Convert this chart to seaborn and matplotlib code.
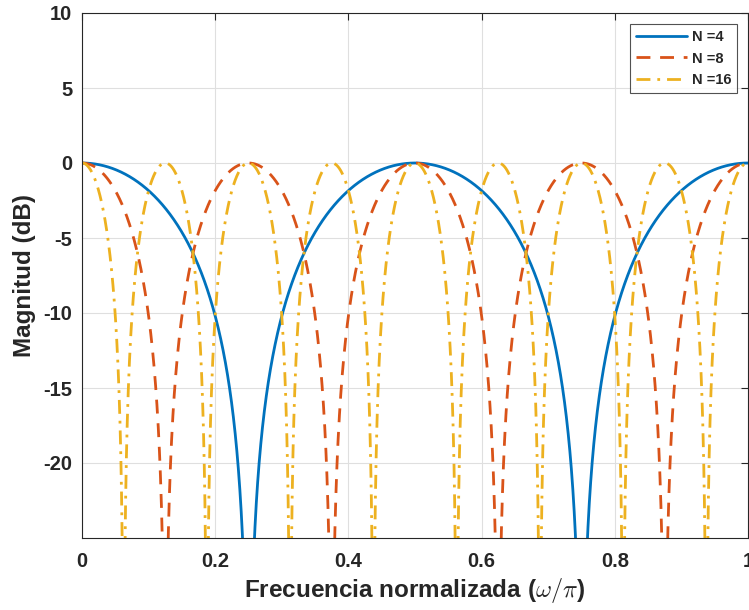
import numpy as np
import pandas as pd
import matplotlib
matplotlib.use("Agg")
import matplotlib.pyplot as plt
import seaborn as sns

# Data: comb-filter orders and their labels
n_values = [4, 8, 16]
labels = ["N =4", "N =8", "N =16"]
colors = ["#0072BD", "#D95319", "#EDB120"]
x_ticks = [0, 0.2, 0.4, 0.6, 0.8, 1]
x_tick_labels = ["0", "0.2", "0.4", "0.6", "0.8", "1"]
y_ticks = [-20, -15, -10, -5, 0, 5, 10]
freq = np.linspace(0, 1, 4001)  # normalized frequency (omega/pi)

frames = []
for n, lab in zip(n_values, labels):
    mag = np.abs(np.cos(n * np.pi * freq / 2))
    with np.errstate(divide="ignore"):
        db = 20 * np.log10(np.maximum(mag, 1e-12))
    frames.append(pd.DataFrame({"f": freq, "dB": db, "N": lab}))
df = pd.concat(frames, ignore_index=True)

sns.set_style("white")
plt.rcParams["font.family"] = ["Liberation Sans", "DejaVu Sans"]
plt.rcParams["font.weight"] = "bold"
plt.rcParams["axes.unicode_minus"] = False
plt.rcParams["mathtext.fontset"] = "cm"

fig = plt.figure(figsize=(7.49, 6.10), dpi=100)
ax = fig.add_axes([82 / 749, 1 - 538 / 610, (748 - 82) / 749, (538 - 13) / 610])

styles = ["-", (0, (5, 3.5)), (0, (5, 2.5, 1, 2.5))]
for lab, col, ls in zip(labels, colors, styles):
    sub = df[df["N"] == lab]
    sns.lineplot(data=sub, x="f", y="dB", ax=ax, color=col, linewidth=2,
                 label=lab, estimator=None, sort=False, linestyle=ls)

ax.set_xlim(0, 1)
ax.set_ylim(-25, 10)
ax.set_xticks(x_ticks)
ax.set_xticklabels(x_tick_labels)
ax.set_yticks(y_ticks)
ax.grid(True, color="#DFDFDF", linewidth=0.8)
ax.tick_params(direction="in", top=True, right=True, length=5, width=0.8,
               labelsize=14.5, colors="#262626", pad=7)
ax.tick_params(axis="x", pad=10)
for s in ax.spines.values():
    s.set_visible(True)
    s.set_color("#262626")
    s.set_linewidth(0.8)
for t in ax.get_xticklabels() + ax.get_yticklabels():
    t.set_fontweight("bold")

ax.set_xlabel(r"Frecuencia normalizada ($\omega/\pi$)", fontsize=17.5,
              fontweight="bold", color="#262626", labelpad=4)
ax.set_ylabel("Magnitud (dB)", fontsize=17.5, fontweight="bold", color="#262626",
              labelpad=5)

leg = ax.legend(loc="upper right", bbox_to_anchor=(0.9835, 0.979), borderaxespad=0,
                fontsize=10.5, frameon=True, fancybox=False, edgecolor="#262626",
                handlelength=3.45, borderpad=0.4, labelspacing=0.53,
                handletextpad=0.35)
leg.get_frame().set_linewidth(0.8)
for t in leg.get_texts():
    t.set_fontweight("bold")

fig.savefig("out.png", dpi=100)
